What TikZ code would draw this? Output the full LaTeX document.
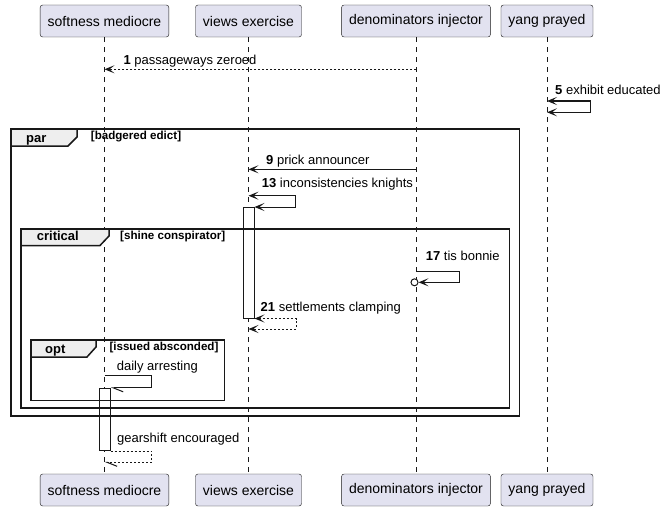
\documentclass[tikz,border=0pt]{standalone}
\usepackage{fontspec}
\setmainfont{Liberation Sans}
\usepackage{tikz}
\usetikzlibrary{arrows.meta}
\definecolor{linegray}{HTML}{181818}
\definecolor{partfill}{HTML}{E2E2F0}
\definecolor{tabfill}{HTML}{EEEEEE}

\begin{document}
\begin{tikzpicture}[x=1pt,y=-1pt,>={Stealth[length=10pt,width=8pt,inset=5pt]},
        part/.style={draw=linegray,fill=partfill,rounded corners=2.5pt,minimum height=32pt,inner xsep=7.5pt,font=\fontsize{14}{16}\selectfont},
        lifeline/.style={draw=linegray,line width=0.5pt,dash pattern=on 5pt off 5pt},
        msg/.style={draw=linegray,line width=1pt},
        ret/.style={msg,dash pattern=on 2pt off 2pt},
        half/.style={-{Straight Barb[harpoon,length=10pt,width=8pt]}},
        lbl/.style={anchor=base west,inner sep=0pt,font=\fontsize{13}{15}\selectfont},
        act/.style={draw=linegray,fill=white,line width=1pt,minimum width=11pt,inner sep=0pt,anchor=north},
        frame/.style={draw=linegray,line width=1.5pt},
        tab/.style={draw=linegray,fill=tabfill,line width=1.5pt},
        tabtitle/.style={anchor=base west,inner sep=0pt,font=\bfseries\fontsize{13}{15}\selectfont},
        guard/.style={anchor=base west,inner sep=0pt,font=\bfseries\fontsize{11.6}{13}\selectfont}]
        \useasboundingbox (0,0) rectangle (667,511);

        \node[part] (sm) at (104.5,21) {softness mediocre};
        \node[part] (ve) at (248.5,21) {views exercise};
        \node[part] (di) at (416,21) {denominators injector};
        \node[part] (yp) at (547,21) {yang prayed};
        \node[part] (smb) at (104.5,490) {softness mediocre};
        \node[part] (veb) at (248.5,490) {views exercise};
        \node[part] (dib) at (416,490) {denominators injector};
        \node[part] (ypb) at (547,490) {yang prayed};

        \draw[lifeline] (sm) -- (smb);
        \draw[lifeline] (ve) -- (veb);
        \draw[lifeline] (di) -- (dib);
        \draw[lifeline] (yp) -- (ypb);

        \node[act,minimum height=110.5pt] (act1) at (248.5,207) {};
        \node[act,minimum height=62.3pt] (act2) at (104.6,387.8) {};

        \draw[frame] (11,129) rectangle (519.5,416);
        \draw[tab] (11,129) -- (77,129) -- (77,137) -- (68,146) -- (11,146) -- cycle;
        \node[tabtitle] (tpar) at (26,142) {par};
        \node[guard] (gpar) at (90.7,139.5) {[badgered edict]};

        \draw[frame] (21,229) rectangle (509.5,408);
        \draw[tab] (21,229) -- (109,229) -- (109,236) -- (100,245.5) -- (21,245.5) -- cycle;
        \node[tabtitle] (tcrit) at (36.7,240.7) {critical};
        \node[guard] (gcrit) at (120,239) {[shine conspirator]};

        \draw[frame] (31,340) rectangle (224.5,400.5);
        \draw[tab] (31,340) -- (96,340) -- (96,347) -- (87,357) -- (31,357) -- cycle;
        \node[tabtitle] (topt) at (45,353) {opt};
        \node[guard] (gopt) at (109.3,350.5) {[issued absconded]};

        \coordinate (m1s) at (416,69.3);
        \coordinate (m1e) at (104.5,69.3);
        \draw[ret,->] (m1s) -- (m1e);
        \node[lbl] (l1) at (123.3,64.3) {\textbf{1} passageways zeroed};

        \coordinate (m5s) at (547,101);
        \coordinate (m5e) at (547,112.3);
        \draw[msg,<->] (m5s) -- ++(43.7,0) |- (m5e);
        \node[lbl] (l5) at (555,95) {\textbf{5} exhibit educated};

        \coordinate (m9s) at (416,169.3);
        \coordinate (m9e) at (248.5,169.3);
        \draw[msg,->] (m9s) -- (m9e);
        \node[lbl] (l9) at (266,164.3) {\textbf{9} prick announcer};

        \coordinate (m13s) at (248.5,195.7);
        \draw[msg,<->] (m13s) -- ++(46.5,0) |- (act1.north east);
        \node[lbl] (l13) at (261.7,187) {\textbf{13} inconsistencies knights};

        \node[draw=linegray,circle,line width=1pt,inner sep=0pt,minimum size=7pt,fill=white] (c17) at (414.5,282.3) {};
        \coordinate (m17s) at (416,271.7);
        \draw[msg,->] (m17s) -- ++(43,0) |- (c17.east);
        \node[lbl] (l17) at (425.7,260) {\textbf{17} tis bonnie};

        \coordinate (m21e) at (248.5,329);
        \draw[ret,<->] (act1.south east) -- ++(41.5,0) |- (m21e);
        \node[lbl] (l21) at (260.5,311.7) {\textbf{21} settlements clamping};

        \coordinate (m7s) at (104.5,375.7);
        \draw[msg,half] (m7s) -- ++(46.5,0) |- (act2.north east);
        \node[lbl] (l7) at (116.7,370) {daily arresting};

        \coordinate (m8e) at (104.5,462.3);
        \draw[ret,half] (act2.south east) -- ++(41,0) |- (m8e);
        \node[lbl] (l8) at (117,442) {gearshift encouraged};
\end{tikzpicture}
\end{document}
